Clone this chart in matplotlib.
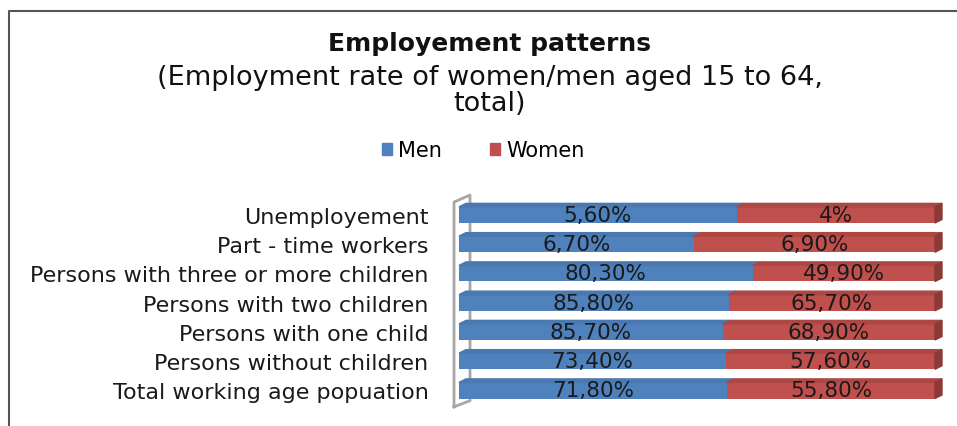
import numpy as np
import matplotlib.pyplot as plt
from matplotlib.patches import Polygon, Rectangle
from matplotlib.lines import Line2D

categories = ["Unemployement", "Part - time workers", "Persons with three or more children",
              "Persons with two children", "Persons with one child",
              "Persons without children", "Total working age popuation"]
men = np.array([5.6, 6.7, 80.3, 85.8, 85.7, 73.4, 71.8])
women = np.array([4.0, 6.9, 49.9, 65.7, 68.9, 57.6, 55.8])
men_text = ["5,60%", "6,70%", "80,30%", "85,80%", "85,70%", "73,40%", "71,80%"]
women_text = ["4%", "6,90%", "49,90%", "65,70%", "68,90%", "57,60%", "55,80%"]

blue, blue_top = "#4F81BD", "#4A78B0"
red, red_top, red_side = "#C0504D", "#AD4744", "#8C3A37"

# 100% stacked shares
total = men + women
men_share = men / total

fig = plt.figure(figsize=(9.57, 4.27), dpi=100)
ax = fig.add_axes([459/957, 1 - 413.4/427, 476/957, (413.4 - 194)/427])

y = np.arange(len(categories))
h = 0.55
ax.barh(y, men_share, height=h, color=blue, zorder=2)
ax.barh(y, 1 - men_share, left=men_share, height=h, color=red, zorder=2)
ax.set_xlim(0, 1)
ax.set_ylim(6.75, -0.75)

# fake 3d depth
dx, dy = 0.0147, 0.12
for yi, ms in zip(y, men_share):
    top = yi - h/2
    ax.add_patch(Polygon([(0, top), (dx, top - dy), (ms + dx, top - dy), (ms, top)],
                         color=blue_top, zorder=2, clip_on=False))
    ax.add_patch(Polygon([(ms, top), (ms + dx, top - dy), (1 + dx, top - dy), (1, top)],
                         color=red_top, zorder=2, clip_on=False))
    ax.add_patch(Polygon([(1, top), (1 + dx, top - dy), (1 + dx, top - dy + h), (1, top + h)],
                         color=red_side, zorder=2, clip_on=False))

# side wall
wx0, wx1 = -0.0105, 0.0231
wall = [(wx0, 6.56), (wx0, -0.44), (wx1, -0.68), (wx1, 6.35), (wx0, 6.56)]
ax.plot([p[0] for p in wall], [p[1] for p in wall], color="#A6A6A6", lw=2,
        zorder=1, clip_on=False)

for yi, ms, mt, wt in zip(y, men_share, men_text, women_text):
    ax.text(ms/2, yi, mt, ha="center", va="center", fontsize=15.5, color="#1a1a1a", zorder=3)
    ax.text((ms + 1)/2, yi, wt, ha="center", va="center", fontsize=15.5, color="#1a1a1a", zorder=3)

ax.set_yticks(y)
ax.set_yticklabels(categories, fontsize=16, color="#1a1a1a")
ax.set_xticks([])
ax.tick_params(axis="y", length=0, pad=22)
for s in ax.spines.values():
    s.set_visible(False)

# frame
fig.add_artist(Line2D([9/957, 9/957, 1], [0, 1 - 12/427, 1 - 12/427],
                      transform=fig.transFigure, color="#555555", lw=1.5))

fig.text(0.512, 1 - 44/427, "Employement patterns", ha="center", va="center",
         fontsize=18, fontweight="bold", color="#111111")
fig.text(0.512, 1 - 91/427, "(Employment rate of women/men aged 15 to 64,\ntotal)",
         ha="center", va="center", fontsize=19.5, linespacing=1.0, color="#111111")

handles = [Rectangle((0, 0), 1, 1, color=blue), Rectangle((0, 0), 1, 1, color=red)]
fig.legend(handles, ["Men", "Women"], loc="center", bbox_to_anchor=(0.505, 1 - 151/427),
           ncol=2, frameon=False, fontsize=15, handlelength=0.5, handleheight=0.5,
           handletextpad=0.3, columnspacing=2.3)

fig.savefig("out.png", dpi=100)
